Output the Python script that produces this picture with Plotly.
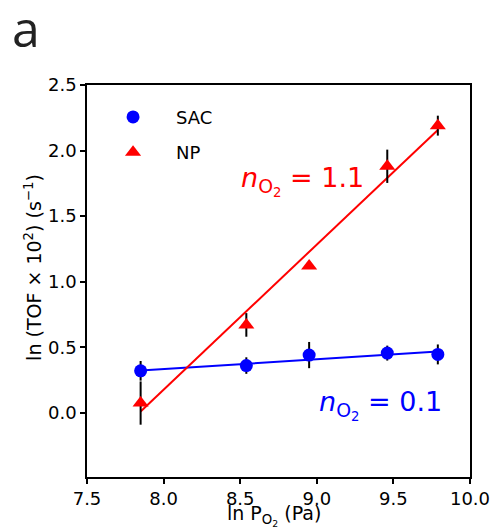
import plotly.graph_objects as go

# data
x_vals = [7.85, 8.54, 8.95, 9.46, 9.79]
sac_y = [0.32, 0.36, 0.44, 0.455, 0.445]
sac_err = [0.075, 0.063, 0.10, 0.057, 0.076]
np_y = [0.074, 0.67, 1.12, 1.88, 2.19]
np_err = [0.165, 0.09, 0.0, 0.127, 0.076]
fit_x = [7.85, 9.79]
sac_fit_y = [0.322, 0.467]
np_fit_y = [0.01, 2.157]
x_ticks = [7.5, 8.0, 8.5, 9.0, 9.5, 10.0]
y_ticks = [0.0, 0.5, 1.0, 1.5, 2.0, 2.5]

BLUE = "#0000ff"
RED = "#ff0000"
FONT = "DejaVu Sans"
NB = "\u00a0"

fig = go.Figure()
fig.add_trace(go.Scatter(x=fit_x, y=sac_fit_y, mode="lines", line=dict(color=BLUE, width=2),
                         showlegend=False, hoverinfo="skip"))
fig.add_trace(go.Scatter(x=fit_x, y=np_fit_y, mode="lines", line=dict(color=RED, width=2),
                         showlegend=False, hoverinfo="skip"))
fig.add_trace(go.Scatter(x=x_vals, y=sac_y, mode="markers", name=NB * 4 + "SAC", legendgroup="g1",
                         marker=dict(symbol="circle", size=13, color=BLUE),
                         error_y=dict(type="data", array=sac_err, color="black", thickness=2, width=0)))
fig.add_trace(go.Scatter(x=x_vals, y=np_y, mode="markers", name=NB * 4 + "NP", legendgroup="g2",
                         marker=dict(symbol="triangle-up", size=14, color=RED),
                         error_y=dict(type="data", array=np_err, color="black", thickness=2, width=0)))

axis_common = dict(showgrid=False, zeroline=False, showline=True, linecolor="black", linewidth=1.5,
                   mirror=True, ticks="outside", ticklen=5, tickwidth=1.5, tickcolor="black",
                   automargin=False,
                   tickfont=dict(family=FONT, size=18, color="black"))

fig.update_xaxes(range=[7.5, 10.0], tickvals=x_ticks, ticktext=[f"{v:.1f}" for v in x_ticks],
                 **axis_common)
fig.update_yaxes(range=[-0.49, 2.5], tickvals=y_ticks, ticktext=[f"{v:.1f}" for v in y_ticks],
                 **axis_common)

fig.add_annotation(x=0.488, y=-0.097, xref="paper", yref="paper", showarrow=False,
                   xanchor="center", yanchor="middle",
                   text="ln P<sub>O<sub>2</sub></sub> (Pa)",
                   font=dict(family=FONT, size=19, color="black"))
fig.add_annotation(x=-0.141, y=0.536, xref="paper", yref="paper", showarrow=False, textangle=-90,
                   xanchor="center", yanchor="middle",
                   text="ln (TOF × 10<sup>2</sup>) (s<sup>−1</sup>)",
                   font=dict(family=FONT, size=19, color="black"))
fig.add_annotation(x=8.49, y=1.77, xref="x", yref="y", showarrow=False, xanchor="left",
                   text="<i>n</i><sub>O<sub>2</sub></sub> = 1.1", font=dict(family=FONT, size=27, color=RED))
fig.add_annotation(x=9.0, y=0.06, xref="x", yref="y", showarrow=False, xanchor="left",
                   text="<i>n</i><sub>O<sub>2</sub></sub> = 0.1", font=dict(family=FONT, size=27, color=BLUE))
fig.add_annotation(x=-0.2, y=1.145, xref="paper", yref="paper", showarrow=False, text="a",
                   xanchor="left", yanchor="middle",
                   font=dict(family="Open Sans", size=50, color="#222222"))

fig.update_layout(width=498, height=527, margin=dict(l=87, r=28, t=85, b=50),
                  plot_bgcolor="white", paper_bgcolor="white",
                  legend=dict(x=0.068, y=0.965, xanchor="left", yanchor="top", bgcolor="rgba(0,0,0,0)",
                              font=dict(family=FONT, size=18, color="black"),
                              traceorder="grouped", tracegroupgap=9))
fig.write_html("out.html")
